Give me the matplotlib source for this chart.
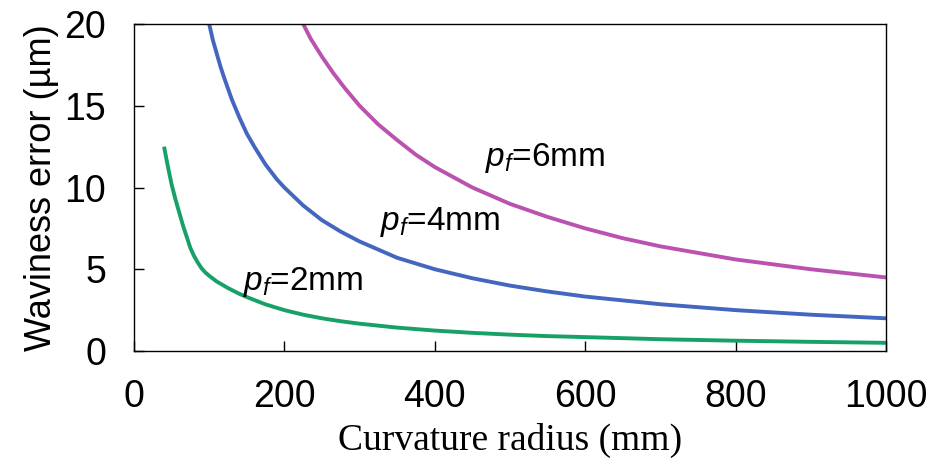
import matplotlib
matplotlib.use("Agg")
from matplotlib import pyplot as plt

# curvature radius (mm) and waviness error (um)
r_2mm = [40, 45, 50, 55, 60, 65, 70, 75, 80, 85, 90, 95, 100, 110, 125, 140, 150, 175, 200, 225, 250, 275, 300,
         350, 400, 450, 500, 550, 600, 700, 800, 900, 1000]
e_2mm = [12.5, 11.3, 10.2, 9.3, 8.5, 7.7, 7.0, 6.3, 5.8, 5.4, 5.05, 4.8, 4.6, 4.25, 3.85, 3.5, 3.3, 2.85, 2.5, 2.22,
         2.0, 1.82, 1.67, 1.43, 1.25, 1.11, 1.0, 0.91, 0.85, 0.72, 0.63, 0.56, 0.5]

r_4mm = [100, 105, 110, 115, 120, 130, 140, 150, 160, 175, 190, 200, 225, 250, 275, 300, 350, 400, 450, 500,
         550, 600, 700, 800, 900, 1000]
e_4mm = [20, 19.0, 18.2, 17.4, 16.7, 15.4, 14.3, 13.3, 12.5, 11.4, 10.5, 10, 8.9, 8, 7.3, 6.7, 5.7, 5, 4.45, 4,
         3.64, 3.33, 2.86, 2.5, 2.22, 2]

r_6mm = [225, 235, 250, 265, 280, 300, 325, 350, 375, 400, 450, 500, 550, 600, 650, 700, 800, 900, 1000]
e_6mm = [20, 19.1, 18, 17.0, 16.1, 15, 13.85, 12.9, 12.0, 11.25, 10, 9, 8.2, 7.5, 6.9, 6.4, 5.6, 5, 4.5]

plt.rcParams['font.family'] = ['Liberation Sans', 'DejaVu Sans']
plt.rcParams['mathtext.fontset'] = 'custom'
plt.rcParams['mathtext.it'] = 'Liberation Sans:italic'
plt.rcParams['mathtext.rm'] = 'Liberation Sans'

fig = plt.figure(figsize=(9.33, 4.68), dpi=100)
ax = fig.add_axes([0.1436, 0.25, 0.8060, 0.6987])

ax.plot(r_2mm, e_2mm, c=(0.09, 0.63, 0.40), lw=2.8, solid_capstyle='butt')
ax.plot(r_4mm, e_4mm, c=(0.27, 0.40, 0.75), lw=2.8)
ax.plot(r_6mm, e_6mm, c=(0.73, 0.32, 0.69), lw=2.8)

ax.text(145, 4.2, r'$p_f$=2mm', fontsize=24, va='center')
ax.text(327, 7.9, r'$p_f$=4mm', fontsize=24, va='center')
ax.text(467, 11.8, r'$p_f$=6mm', fontsize=24, va='center')

ax.set_xlim(0, 1000)
ax.set_ylim(0, 20)
ax.set_xticks([0, 200, 400, 600, 800, 1000])
ax.set_yticks([0, 5, 10, 15, 20])
ax.tick_params(axis='both', direction='in', length=7, width=1, labelsize=27, pad=20)
for s in ax.spines.values():
    s.set_linewidth(1)

ax.set_xlabel('Curvature radius (mm)', fontfamily='Liberation Serif', fontsize=27, labelpad=6)
ax.set_ylabel('Waviness error (\u00b5m)', fontsize=26, labelpad=4)

plt.savefig('out.png', dpi=100)
